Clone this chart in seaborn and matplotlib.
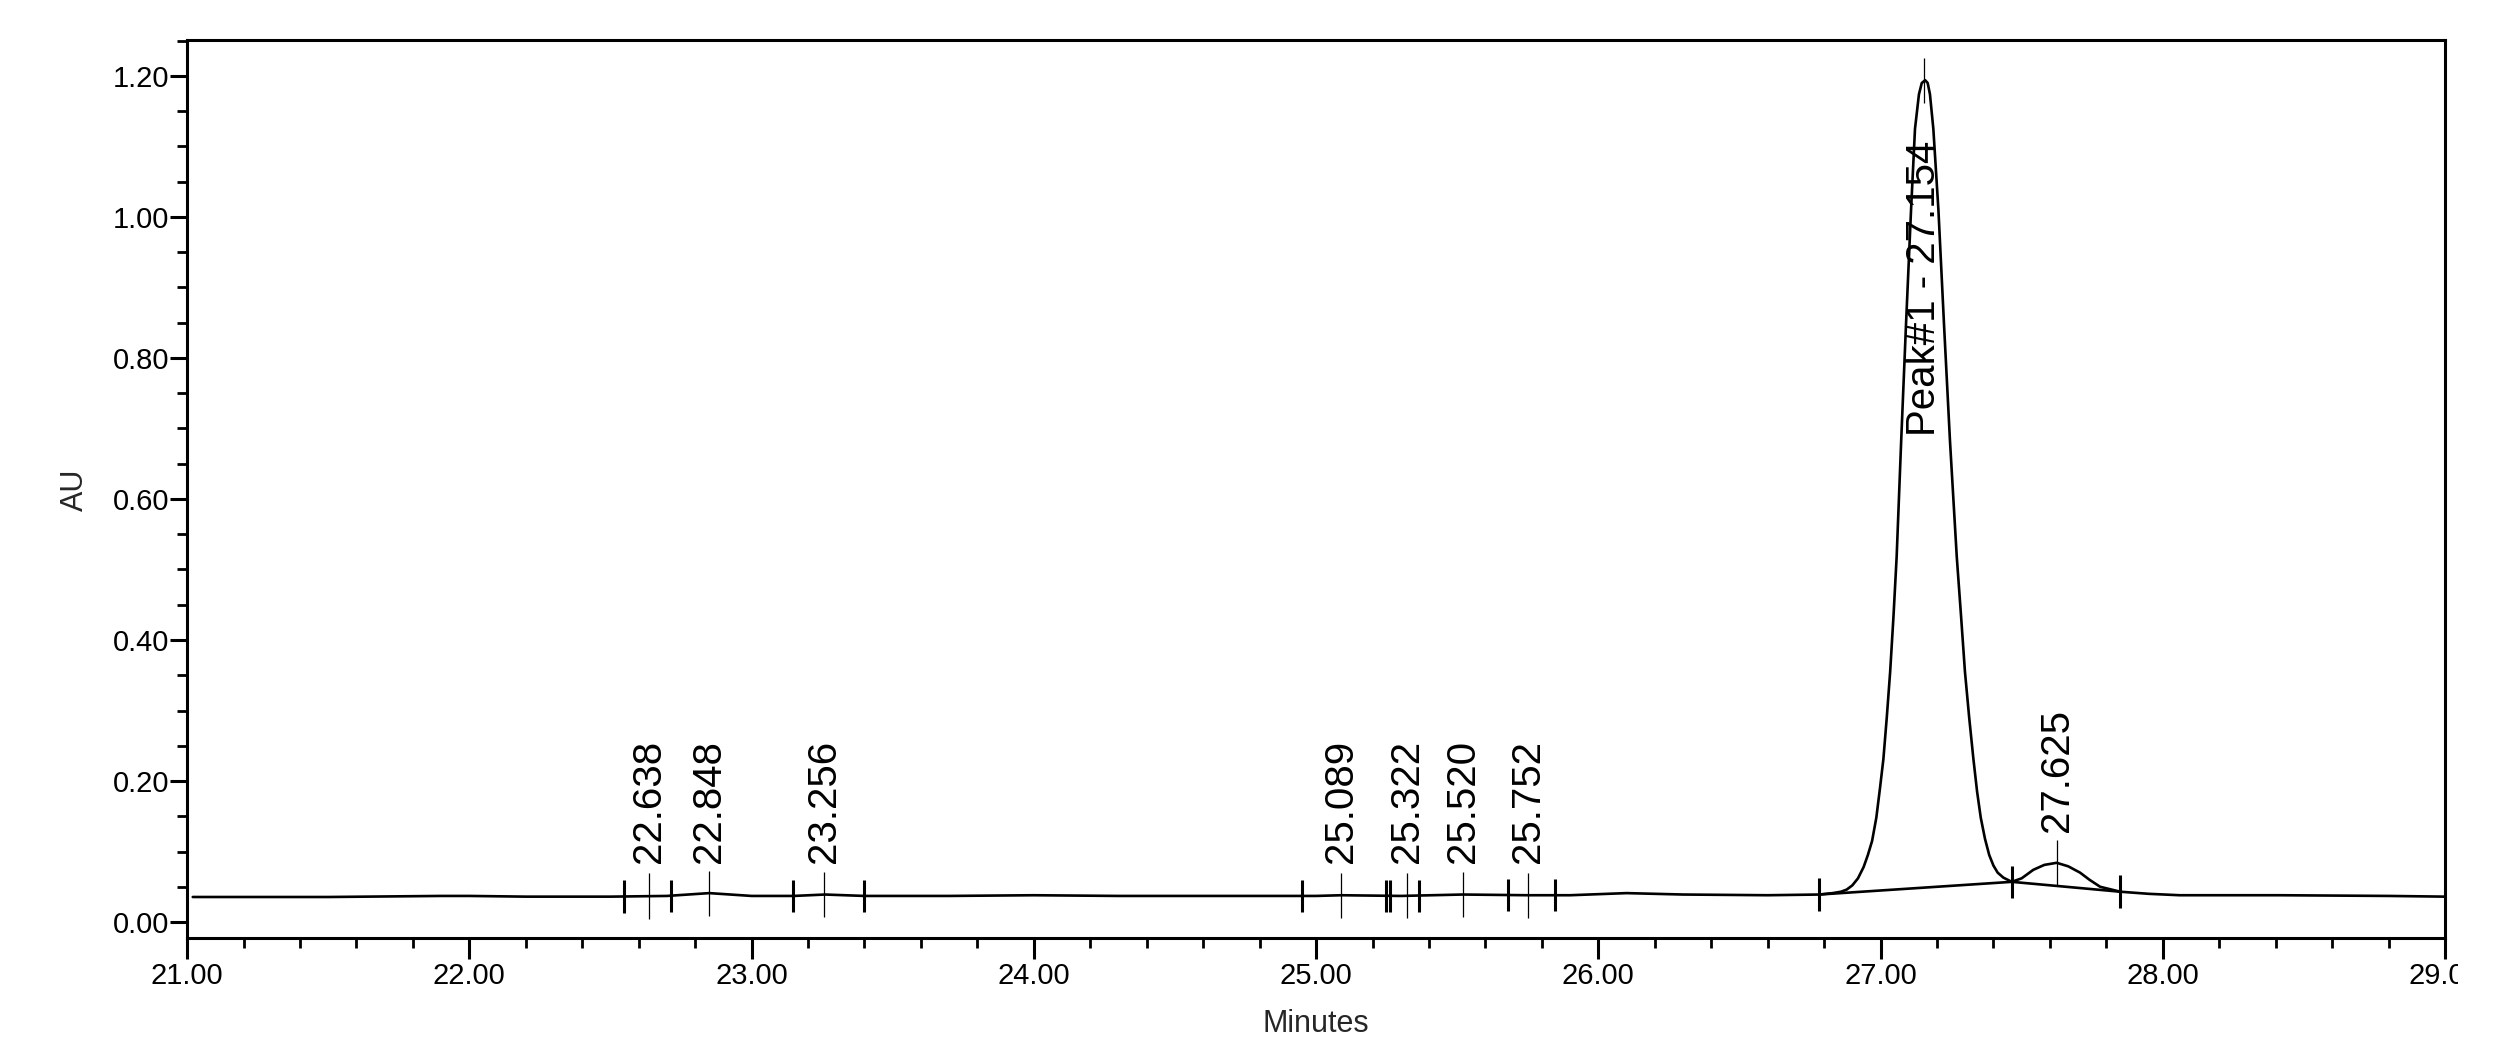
import numpy as np
import pandas as pd
import matplotlib
matplotlib.use("Agg")
import matplotlib.pyplot as plt
import seaborn as sns
from matplotlib.ticker import MultipleLocator, FormatStrFormatter
from matplotlib.transforms import Bbox

# detector trace (minutes, AU)
trace_t = [21.02, 21.5, 21.9, 22.0, 22.2, 22.5, 22.7, 22.85, 23.0, 23.15, 23.26, 23.4,
           23.7, 24.0, 24.3, 24.7, 25.0, 25.09, 25.3, 25.52, 25.75, 25.9, 26.1, 26.3,
           26.6, 26.783, 26.83, 26.86, 26.88, 26.90, 26.92, 26.94, 26.955, 26.97,
           26.985, 26.998, 27.010, 27.022, 27.034, 27.046, 27.057, 27.073, 27.090,
           27.108, 27.122, 27.136, 27.146, 27.158, 27.167, 27.175, 27.187, 27.205,
           27.225, 27.246, 27.258, 27.270, 27.285, 27.299, 27.314, 27.329, 27.342,
           27.355, 27.37, 27.385, 27.40, 27.415, 27.435, 27.465, 27.50, 27.541, 27.58,
           27.624, 27.665, 27.707, 27.74, 27.778, 27.849, 27.95, 28.06, 28.415, 28.8, 29.0]
trace_au = [0.0355, 0.0355, 0.037, 0.037, 0.036, 0.036, 0.037, 0.041, 0.037, 0.037, 0.039, 0.037,
            0.037, 0.038, 0.037, 0.037, 0.037, 0.038, 0.037, 0.039, 0.038, 0.038, 0.041, 0.039,
            0.038, 0.039, 0.041, 0.043, 0.046, 0.052, 0.062, 0.078, 0.095, 0.115,
            0.148, 0.19, 0.231, 0.29, 0.355, 0.435, 0.518, 0.682, 0.846,
            1.010, 1.125, 1.174, 1.190, 1.194, 1.190, 1.174, 1.125, 1.010,
            0.846, 0.682, 0.60, 0.518, 0.435, 0.355, 0.29, 0.231, 0.185,
            0.148, 0.118, 0.095, 0.080, 0.070, 0.063, 0.057, 0.062, 0.074, 0.081,
            0.084, 0.079, 0.070, 0.060, 0.050, 0.043, 0.040, 0.038, 0.038, 0.037, 0.036]

# integration baseline under the two big peaks
base_t = [26.783, 27.465, 27.849]
base_au = [0.039, 0.057, 0.043]

# integration start / end marks
event_t = [22.548, 22.715, 23.148, 23.40, 24.950, 25.248, 25.262, 25.365, 25.680, 25.847,
           26.783, 27.465, 27.849]
event_au = [0.036, 0.037, 0.037, 0.037, 0.037, 0.037, 0.037, 0.037, 0.038, 0.038,
            0.039, 0.057, 0.043]

# peak apexes and their labels
peak_rt = [22.638, 22.848, 23.256, 25.089, 25.322, 25.520, 25.752, 27.154, 27.625]
peak_au = [0.037, 0.041, 0.039, 0.038, 0.038, 0.039, 0.038, 1.194, 0.084]
peak_text = ["22.638", "22.848", "23.256", "25.089", "25.322", "25.520", "25.752",
             "Peak#1 - 27.154", "27.625"]
label_y = [0.084, 0.084, 0.084, 0.084, 0.084, 0.084, 0.084, 0.69, 0.128]

sns.set_style("ticks")
plt.rcParams['font.family'] = ['Liberation Sans', 'DejaVu Sans']

fig = plt.figure(figsize=(25.08, 10.61), dpi=100)
ax = fig.add_axes([0.0746, 0.1159, 0.9003, 0.8464])

trace = pd.DataFrame({"Minutes": trace_t, "AU": trace_au})
sns.lineplot(data=trace, x="Minutes", y="AU", ax=ax, color="black", lw=1.9,
             sort=False, estimator=None)
ax.plot(base_t, base_au, color="black", lw=1.9)

ev = np.array(event_au)
ax.vlines(event_t, ev - 0.023, ev + 0.023, color="black", lw=2.2)
pk = np.array(peak_au)
ax.vlines(peak_rt, pk - 0.032, pk + 0.032, color="black", lw=0.9)

for t, y, s in zip(peak_rt, label_y, peak_text):
    ax.text(t, y, s, rotation=90, ha="center", va="bottom", fontsize=29, color="black")

ax.set_xlim(21, 29)
ax.set_ylim(-0.0227, 1.251)

ax.xaxis.set_major_locator(MultipleLocator(1.0))
ax.xaxis.set_minor_locator(MultipleLocator(0.2))
ax.yaxis.set_major_locator(MultipleLocator(0.2))
ax.yaxis.set_minor_locator(MultipleLocator(0.05))
ax.xaxis.set_major_formatter(FormatStrFormatter("%.2f"))
ax.yaxis.set_major_formatter(FormatStrFormatter("%.2f"))

for sp in ax.spines.values():
    sp.set_linewidth(2.2)
    sp.set_color("black")

ax.tick_params(axis="both", which="both", direction="out", color="black", labelcolor="black")
ax.tick_params(axis="x", which="major", length=15, width=2.2, labelsize=21, pad=2)
ax.tick_params(axis="y", which="major", length=12, width=2.2, labelsize=21, pad=1)
ax.tick_params(axis="both", which="minor", length=7, width=2.0)

ax.set_xlabel("Minutes", fontsize=22, va="center")
ax.set_ylabel("AU", fontsize=22, va="center")
ax.xaxis.set_label_coords(0.5, -0.0958)
ax.yaxis.set_label_coords(-0.0496, 0.499)

# the original export cuts the last tick label at the right edge
fig.canvas.draw()
edge = Bbox.from_extents(0, 0, 2458, 1061)
for tick in ax.xaxis.get_major_ticks():
    tick.label1.set_clip_box(edge)
    tick.label1.set_clip_on(True)

fig.savefig("out.png", dpi=100)
